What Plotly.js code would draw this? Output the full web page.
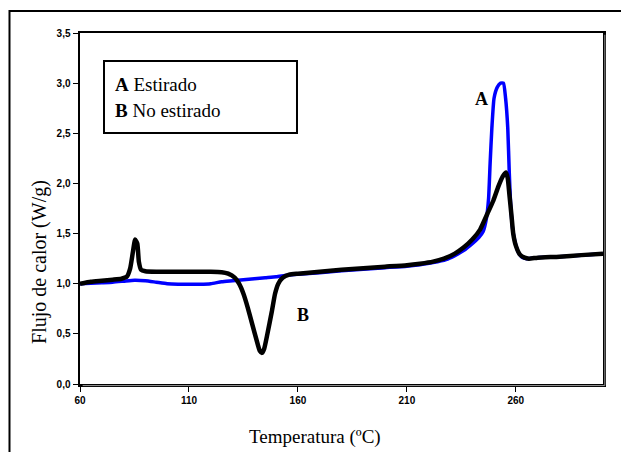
<!DOCTYPE html>
<html>
<head>
<meta charset="utf-8">
<script src="https://cdn.plot.ly/plotly-3.0.1.min.js"></script>
<style>html,body{margin:0;padding:0;background:#fff;}#chart{width:621px;height:452px;}</style>
</head>
<body>
<div id="chart"></div>
<script>
// Curve A: Estirado (blue)
const tempA = [60,65,70,75,80,85,90,95,100,105,110,115,120,125,130,135,140,145,150,155,160,170,180,190,200,210,216,222,228,232,236,240,243,245,246.5,247.5,248.2,249,250,251.5,253,254.3,255.3,256.3,257,257.6,258.5,259.6,261,263,265,270,280,290,300];
const flujoA = [1.00,1.005,1.01,1.015,1.025,1.035,1.03,1.015,1.0,0.995,0.995,0.995,1.0,1.02,1.03,1.04,1.05,1.06,1.07,1.085,1.095,1.11,1.13,1.145,1.16,1.175,1.19,1.21,1.24,1.28,1.33,1.40,1.46,1.52,1.65,1.85,2.2,2.55,2.85,2.96,3.0,3.0,2.85,2.55,2.1,1.8,1.55,1.42,1.32,1.26,1.25,1.26,1.27,1.285,1.30];
// Curve B: No estirado (black)
const tempB = [60,65,70,75,79,81.5,83,84.3,85.3,86.3,87,88,90,95,100,110,120,125,128,131,133,135,137,139,141,142.5,143.5,144.5,146,148,149.5,151,153,156,160,170,180,190,200,210,216,222,227,232,236,240,243.6,247,249.7,252,254,255.5,256.3,257,258,258.8,260,261.9,264,266,270,280,290,300];
const flujoB = [1.00,1.02,1.03,1.04,1.05,1.07,1.15,1.32,1.44,1.40,1.22,1.14,1.125,1.12,1.12,1.12,1.12,1.115,1.10,1.06,1.00,0.90,0.76,0.60,0.44,0.33,0.31,0.35,0.50,0.72,0.90,1.00,1.06,1.09,1.10,1.12,1.14,1.155,1.17,1.185,1.20,1.22,1.25,1.30,1.36,1.44,1.54,1.70,1.83,1.97,2.07,2.11,2.05,1.90,1.68,1.50,1.38,1.29,1.26,1.25,1.26,1.27,1.285,1.30];
const xTicks = [60,110,160,210,260];
const yTicks = [0,0.5,1,1.5,2,2.5,3,3.5];
const legendLines = ["<b>A</b> Estirado","<b>B</b> No estirado"];
const curveLabels = ["A","B"];

const traces = [
  {x: tempA, y: flujoA, type:'scatter', mode:'lines', line:{color:'#0000FF', width:3.5, shape:'spline', smoothing:0.5}, hoverinfo:'skip'},
  {x: tempB, y: flujoB, type:'scatter', mode:'lines', line:{color:'#000000', width:4.5, shape:'spline', smoothing:0.5}, hoverinfo:'skip'}
];

const serif = 'Liberation Serif, Times New Roman, serif';
const sans = 'Liberation Sans, Arial, sans-serif';

const layout = {
  width:621, height:452,
  margin:{l:80, r:18, t:33, b:68},
  paper_bgcolor:'#fff', plot_bgcolor:'#fff',
  separators:',.',
  showlegend:false,
  xaxis:{range:[60,300], tickvals:xTicks, ticks:'outside', ticklen:5, tickwidth:1, tickcolor:'#000',
         showgrid:false, zeroline:false, showline:true, linecolor:'#000', linewidth:2.5, mirror:true,
         tickfont:{family:sans, size:10, color:'#000', weight:'bold'}, fixedrange:true},
  yaxis:{range:[0,3.5], tickvals:yTicks, tickformat:'.1f', ticks:'outside', ticklen:5, tickwidth:1, tickcolor:'#000',
         showgrid:false, zeroline:false, showline:true, linecolor:'#000', linewidth:2.5, mirror:true,
         tickfont:{family:sans, size:10, color:'#000', weight:'bold'}, fixedrange:true},
  shapes:[
    {type:'rect', xref:'paper', yref:'paper', x0:-0.1348, y0:1.0627, x1:1.2, y1:-0.4, line:{color:'#000', width:2}, fillcolor:'rgba(0,0,0,0)'},
    {type:'rect', xref:'paper', yref:'paper', x0:0.0459, y0:0.9202, x1:0.4149, y1:0.7151, line:{color:'#000', width:2}, fillcolor:'#fff'},
    {type:'line', xref:'paper', yref:'paper', x0:1.0035, y0:0.995, x1:1.0035, y1:-0.0045, line:{color:'#999', width:1}},
    {type:'line', xref:'paper', yref:'paper', x0:0.005, y0:-0.0045, x1:1.0035, y1:-0.0045, line:{color:'#999', width:1}}
  ],
  annotations:[
    {xref:'paper', yref:'paper', x:0.0631, y:0.8547, xanchor:'left', yanchor:'middle', showarrow:false, text:legendLines[0], font:{family:serif, size:19, color:'#000'}},
    {xref:'paper', yref:'paper', x:0.0631, y:0.7806, xanchor:'left', yanchor:'middle', showarrow:false, text:legendLines[1], font:{family:serif, size:19, color:'#000'}},
    {xref:'paper', yref:'paper', x:0.7686, y:0.8120, xanchor:'center', yanchor:'middle', showarrow:false, text:'<b>'+curveLabels[0]+'</b>', font:{family:serif, size:18, color:'#000'}},
    {xref:'paper', yref:'paper', x:0.4264, y:0.1966, xanchor:'center', yanchor:'middle', showarrow:false, text:'<b>'+curveLabels[1]+'</b>', font:{family:serif, size:18, color:'#000'}},
    {xref:'paper', yref:'paper', x:0.45, y:-0.151, xanchor:'center', yanchor:'middle', showarrow:false, text:'Temperatura (ºC)', font:{family:serif, size:19, color:'#000'}},
    {xref:'paper', yref:'paper', x:-0.0765, y:0.3476, xanchor:'center', yanchor:'middle', textangle:-90, showarrow:false, text:'Flujo de calor (W/g)', font:{family:serif, size:20, color:'#000'}}
  ]
};

Plotly.newPlot('chart', traces, layout, {staticPlot:true, displayModeBar:false});
</script>
</body>
</html>
